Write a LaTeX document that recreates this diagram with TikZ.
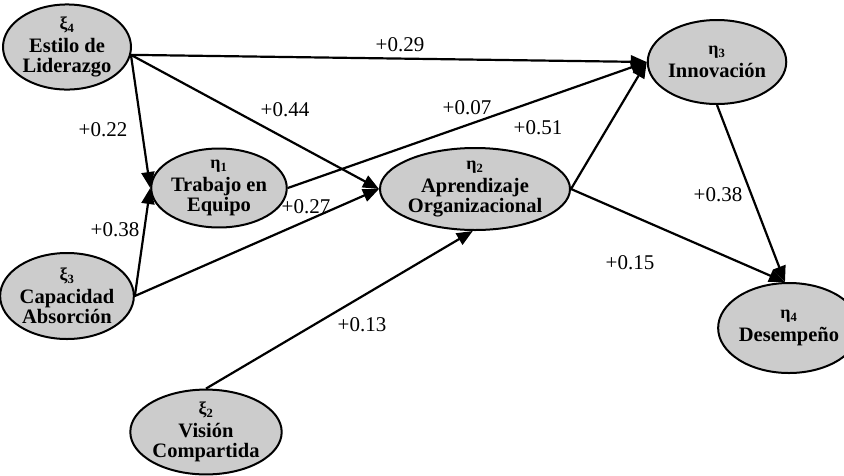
\documentclass[tikz,border=0pt]{standalone}
\usepackage{fontspec}
\setmainfont{Liberation Serif}
\usetikzlibrary{shapes.geometric,arrows.meta}
\tikzset{
  var/.style={ellipse,draw=black,line width=2pt,fill=gray!40,inner sep=0pt,align=center,
    font=\fontsize{20.5}{20}\selectfont\bfseries},
  path/.style={line width=2.2pt,-{Triangle[length=16pt,width=13pt]}},
  coef/.style={font=\fontsize{21}{21}\selectfont,inner sep=1pt}
}
\newcommand{\gsym}[2]{{\fontsize{18}{16}\selectfont #1\textsubscript{#2}}}
\begin{document}
\begin{tikzpicture}[x=1pt,y=-1pt]
\useasboundingbox (0,0) rectangle (844,475);
\node[var,minimum width=128pt,minimum height=80pt] (estilo) at (67,47) {\gsym{ξ}{4}\\[3pt]Estilo de\\Liderazgo};
\node[var,minimum width=118pt,minimum height=76pt] (trabajo) at (219,188) {\gsym{η}{1}\\[3pt]Trabajo en\\Equipo};
\node[var,minimum width=144pt,minimum height=82pt] (aprend) at (475,189) {\gsym{η}{2}\\[3pt]Aprendizaje\\Organizacional};
\node[var,minimum width=120pt,minimum height=84pt] (innov) at (717,62) {\gsym{η}{3}\\[3pt]Innovación};
\node[var,minimum width=122pt,minimum height=86pt] (capac) at (67,296) {\gsym{ξ}{3}\\[3pt]Capacidad\\Absorción};
\node[var,minimum width=132pt,minimum height=84pt] (vision) at (206,432) {\gsym{ξ}{2}\\[3pt]Visión\\Compartida};
\node[var,minimum width=114pt,minimum height=90pt] (desem) at (789,328) {\gsym{η}{4}\\[3pt]Desempeño};

\draw[path] (estilo.-7) -- (innov.west);
\draw[path] (estilo.-7) -- (aprend.west);
\draw[path] (estilo.-7) -- (trabajo.west);
\draw[path] (capac.east) -- (trabajo.west);
\draw[path] (capac.east) -- (aprend.west);
\draw[path] (trabajo.east) -- (innov.west);
\draw[path] (aprend.east) -- (innov.west);
\draw[path] (aprend.east) -- (desem.95);
\draw[path] (innov.south) -- (desem.95);
\draw[path] (vision.north) -- (aprend.-93);

\node[coef] (c1) at (400,45) {+0.29};
\node[coef] (c2) at (285,110) {+0.44};
\node[coef] (c3) at (467,108) {+0.07};
\node[coef] (c4) at (103,130) {+0.22};
\node[coef] (c5) at (538,128) {+0.51};
\node[coef] (c6) at (115,230) {+0.38};
\node[coef] (c7) at (718,195) {+0.38};
\node[coef] (c8) at (306,207) {+0.27};
\node[coef] (c9) at (630,263) {+0.15};
\node[coef] (c10) at (362,325) {+0.13};
\end{tikzpicture}
\end{document}
